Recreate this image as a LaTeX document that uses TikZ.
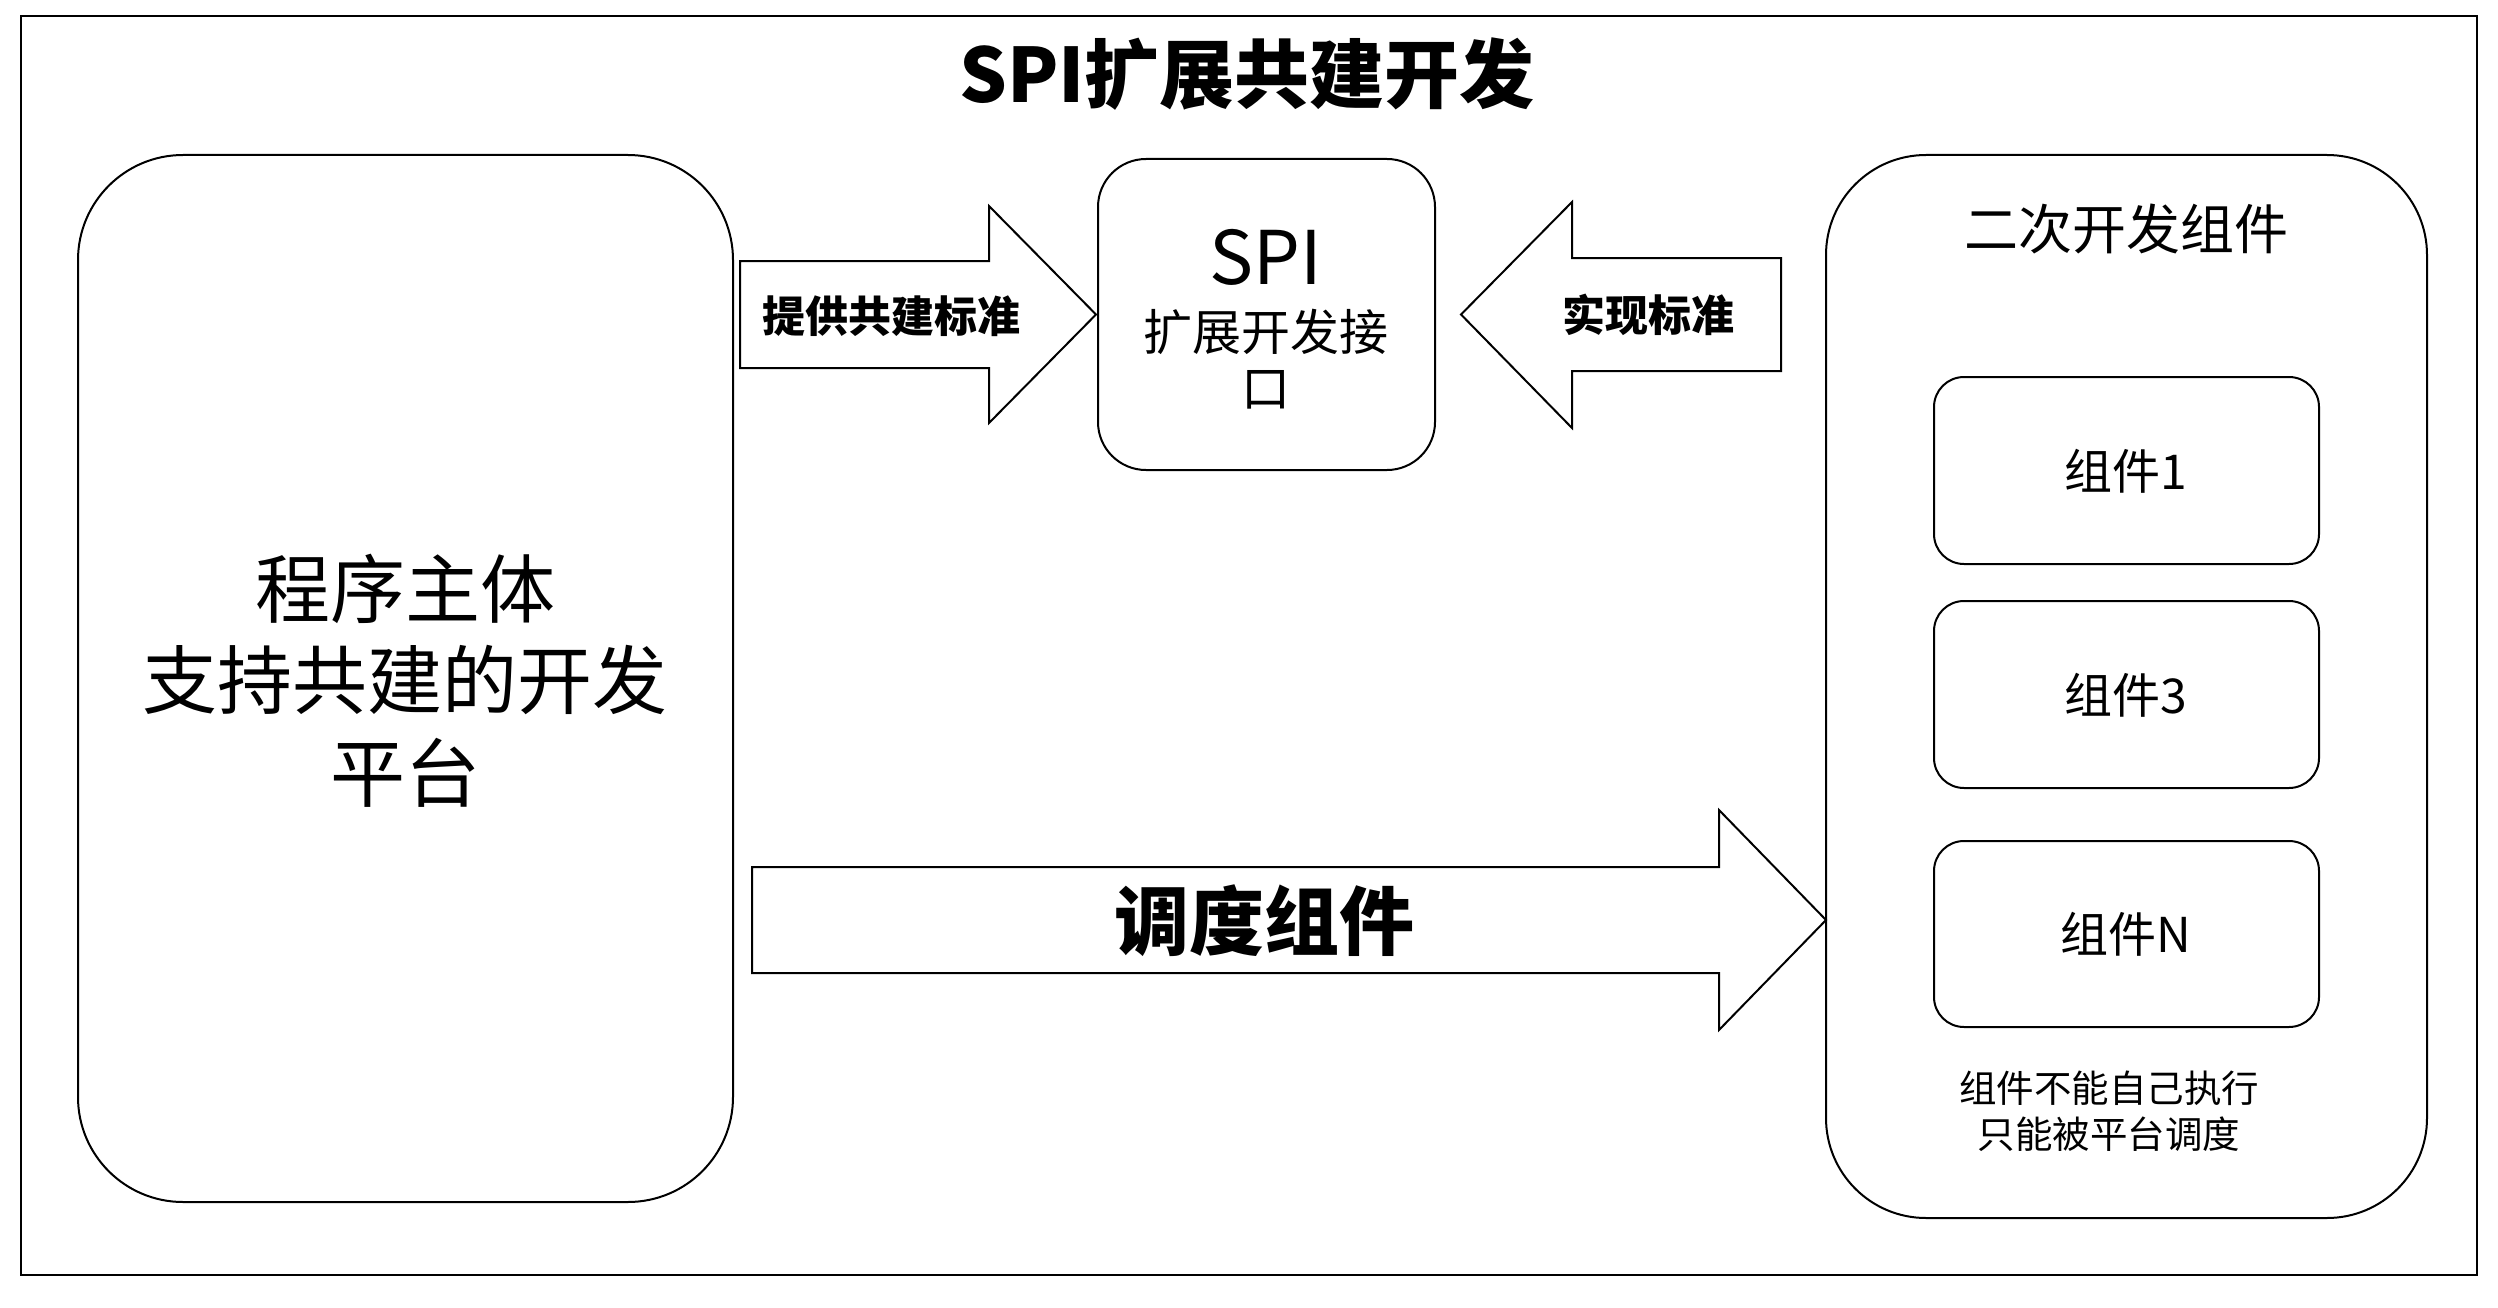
\documentclass[tikz,border=0pt]{standalone}
\usepackage{fontspec}
\setmainfont{Noto Sans CJK SC}
\begin{document}
\begin{tikzpicture}[x=1pt,y=-1pt]
\tikzset{
  frame/.style={draw, line width=2.6pt},
  rbox/.style={draw, line width=2pt, rounded corners=#1, inner sep=0pt},
  blockarrow/.style={draw, line width=2pt, fill=white, line join=miter},
  lbl/.style={anchor=base, inner sep=0pt, font=\fontsize{#1}{#1}\selectfont},
  blbl/.style={anchor=base, inner sep=0pt, font=\fontsize{#1}{#1}\selectfont\bfseries}
}
\useasboundingbox (0,0) rectangle (2498,1308);
\fill[white] (0,0) rectangle (2498,1308);
\draw[frame] (21,16) rectangle (2477,1275);

% title
\node[blbl=75] (title) at (1247,103) {SPI扩展共建开发};

% main platform box
\node[rbox=105pt, minimum width=655pt, minimum height=1047pt] (main) at (405.5,678.5) {};
\node[lbl=75] (m1) at (405,617) {程序主体};
\node[lbl=75] (m2) at (405,708) {支持共建的开发};
\node[lbl=75] (m3) at (405,801) {平台};

% SPI box
\node[rbox=48pt, minimum width=337pt, minimum height=311pt] (spi) at (1266.5,314.5) {};
\node[lbl=74] (spit) at (1266,284) {SPI};
\node[lbl=49] (spi2) at (1266,350) {扩展开发接};
\node[lbl=49] (spi3) at (1266,406) {口};

% right container
\node[rbox=100pt, minimum width=601pt, minimum height=1063pt] (ext) at (2126.5,686.5) {};
\node[lbl=54] (extt) at (2126,249) {二次开发组件};
\node[rbox=30pt, minimum width=385pt, minimum height=187pt] (c1) at (2126.5,470.5) {};
\node[rbox=30pt, minimum width=385pt, minimum height=187pt] (c3) at (2126.5,694.5) {};
\node[rbox=30pt, minimum width=385pt, minimum height=186pt] (cn) at (2126.5,934) {};
\node[lbl=48] (c1t) at (2126,489) {组件1};
\node[lbl=48] (c3t) at (2126,713) {组件3};
\node[lbl=48] (cnt) at (2126,952) {组件N};
\node[lbl=37.5] (note1) at (2109,1102) {组件不能自己执行};
\node[lbl=37.5] (note2) at (2109,1148) {只能被平台调度};

% block arrows
\draw[blockarrow] (740,261) -- (989,261) -- (989,206) -- (1096,314.5) -- (989,423) -- (989,368) -- (740,368) -- cycle;
\node[blbl=43] (a1) at (891,332) {提供共建标准};

\draw[blockarrow] (1781,258) -- (1572,258) -- (1572,202) -- (1461,314.5) -- (1572,428) -- (1572,371) -- (1781,371) -- cycle;
\node[blbl=43] (a2) at (1648,331) {实现标准};

\draw[blockarrow] (752,867) -- (1719,867) -- (1719,810) -- (1826,920) -- (1719,1030) -- (1719,973) -- (752,973) -- cycle;
\node[blbl=75] (a3) at (1264,949) {调度组件};
\end{tikzpicture}
\end{document}
